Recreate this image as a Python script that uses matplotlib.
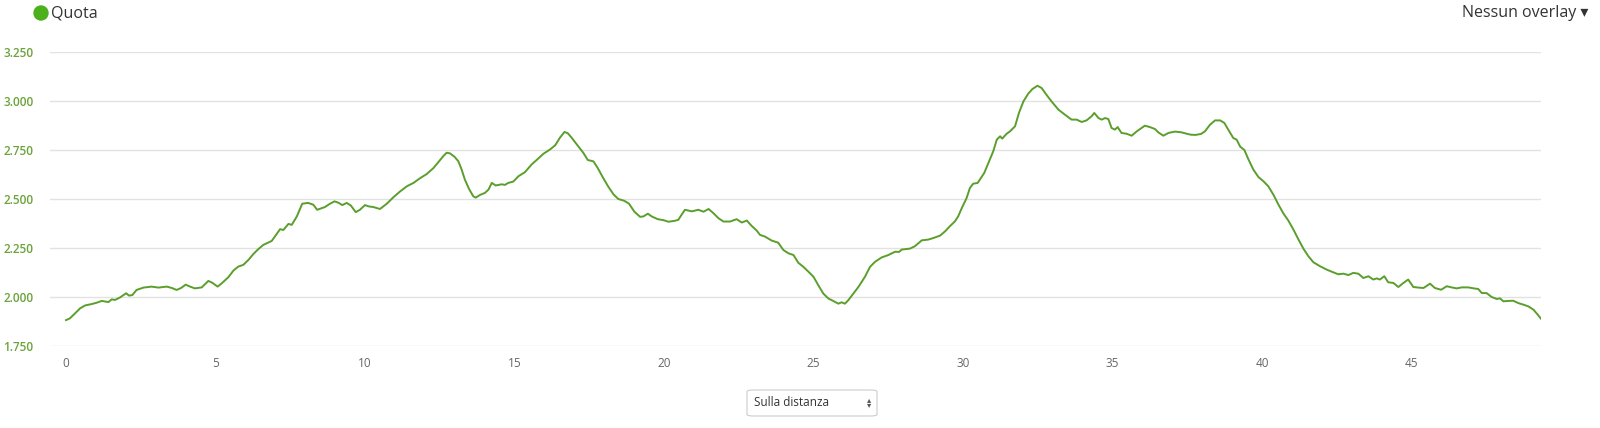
import matplotlib
matplotlib.use("Agg")
import matplotlib.pyplot as plt
from matplotlib.patches import FancyBboxPatch, Circle

dist_km = [0.00,0.13,0.30,0.47,0.64,0.86,1.03,1.20,1.42,1.53,1.64,1.81,2.01,2.11,2.22,2.36,2.59,2.86,3.09,3.37,3.54,3.70,3.85,4.00,4.15,4.31,4.54,4.76,4.89,5.07,5.21,5.43,5.60,5.76,5.93,6.10,6.27,6.43,6.60,
 6.88,7.05,7.16,7.27,7.44,7.55,7.72,7.90,8.10,8.27,8.40,8.49,8.66,8.83,8.98,9.11,9.24,9.39,9.53,9.69,9.83,10.0,10.13,10.28,10.50,10.73,10.95,11.17,11.40,11.62,11.84,12.06,12.29,12.45,12.62,12.73,12.84,12.99,13.12,13.23,13.34,13.48,13.62,13.70,
 13.85,14.01,14.13,14.24,14.37,14.57,14.68,14.79,14.96,15.13,15.35,15.57,15.74,15.97,16.19,16.36,16.52,16.67,16.78,16.91,17.08,17.30,17.45,17.64,17.78,17.97,18.14,18.31,18.47,18.67,18.83,19.01,19.20,19.31,19.46,19.59,19.79,19.98,20.15,20.37,20.48,20.61,20.70,
 20.93,21.15,21.32,21.49,21.65,21.82,21.99,22.21,22.43,22.60,22.77,22.93,23.10,23.21,23.38,23.60,23.82,23.99,24.16,24.33,24.49,24.66,24.83,25.00,25.16,25.33,25.50,25.66,25.83,25.94,26.05,26.16,26.33,26.50,26.72,26.89,27.06,27.28,27.50,27.73,
 27.86,27.95,28.23,28.39,28.62,28.84,29.01,29.23,29.40,29.56,29.73,29.84,29.96,30.12,30.23,30.34,30.49,30.60,30.71,30.85,31.01,31.13,31.24,31.31,31.46,31.57,31.74,31.87,32.02,32.18,32.32,32.49,32.63,32.79,32.96,33.19,33.41,33.63,33.80,33.97,34.13,34.30,34.39,34.53,34.64,
 34.75,34.86,34.97,35.08,35.17,35.30,35.47,35.64,35.81,35.97,36.08,36.25,36.42,36.53,36.70,36.87,37.09,37.31,37.48,37.62,37.78,37.96,38.09,38.26,38.43,38.60,38.74,38.87,39.04,39.15,39.27,39.41,39.54,39.71,39.88,40.05,40.21,40.38,40.55,40.72,40.88,41.05,41.22,41.39,41.55,41.72,
 41.94,42.16,42.38,42.55,42.72,42.89,43.05,43.22,43.39,43.56,43.72,43.84,43.94,44.09,44.22,44.39,44.56,44.73,44.89,45.06,45.23,45.40,45.62,45.78,45.99,46.18,46.34,46.51,46.68,46.90,47.12,47.23,47.35,47.51,47.68,47.85,47.96,48.07,48.24,48.40,48.57,48.74,48.91,49.08,49.22,49.33]

elev_m = [1882,1891,1916,1942,1957,1964,1971,1980,1974,1988,1985,1998,2019,2007,2010,2036,2048,2053,2048,2053,2046,2036,2046,2063,2053,2044,2049,2082,2073,2053,2070,2101,2135,2155,2164,2189,2220,2244,2266,
 2286,2322,2346,2342,2373,2368,2411,2476,2480,2471,2445,2450,2459,2476,2488,2481,2469,2480,2466,2433,2445,2469,2462,2459,2449,2476,2509,2538,2565,2582,2606,2627,2658,2688,2719,2736,2733,2716,2693,2651,2599,2551,2514,2507,
 2521,2531,2548,2582,2569,2575,2572,2582,2589,2616,2637,2676,2699,2731,2753,2774,2813,2842,2836,2813,2779,2736,2699,2692,2659,2606,2562,2524,2500,2491,2476,2435,2409,2411,2425,2411,2397,2392,2384,2389,2394,2425,2445,
 2437,2445,2435,2449,2428,2402,2385,2385,2397,2380,2390,2363,2339,2317,2308,2288,2277,2240,2223,2214,2175,2154,2129,2103,2060,2017,1992,1980,1966,1973,1966,1983,2017,2051,2103,2154,2180,2202,2214,2231,
 2230,2242,2247,2259,2289,2293,2301,2313,2335,2361,2386,2412,2454,2505,2556,2578,2582,2607,2633,2684,2743,2803,2820,2808,2833,2845,2871,2939,2998,3037,3061,3078,3066,3032,2998,2956,2930,2905,2905,2893,2901,2922,2939,2913,2905,
 2913,2908,2862,2854,2867,2837,2833,2823,2845,2862,2874,2867,2857,2840,2823,2837,2844,2840,2833,2828,2827,2832,2845,2879,2901,2901,2888,2854,2811,2803,2767,2750,2704,2650,2612,2590,2565,2522,2471,2425,2390,2344,2293,2245,2208,2177,
 2157,2140,2126,2116,2119,2112,2123,2119,2097,2106,2089,2095,2089,2106,2075,2072,2051,2072,2089,2051,2048,2046,2068,2046,2037,2055,2049,2044,2049,2049,2043,2041,2020,2020,2000,1990,1993,1978,1980,1981,1969,1961,1952,1935,1910,1889]

y_ticks = [1750, 2000, 2250, 2500, 2750, 3000, 3250]
y_tick_labels = ["1.750", "2.000", "2.250", "2.500", "2.750", "3.000", "3.250"]
x_ticks = [0, 5, 10, 15, 20, 25, 30, 35, 40, 45]
x_tick_labels = ["0", "5", "10", "15", "20", "25", "30", "35", "40", "45"]
series_name = "Quota"

FONT = ["Open Sans", "DejaVu Sans"]
plt.rcParams["font.family"] = FONT

W, H = 1600, 428
fig = plt.figure(figsize=(W / 100, H / 100), dpi=100)
fig.patch.set_facecolor("white")

ax = fig.add_axes([50 / W, 1 - 346 / H, (1541 - 50) / W, (346 - 52) / H])
ax.set_facecolor("white")
ax.plot(dist_km, elev_m, color="#5a9e2c", lw=1.4, solid_joinstyle="round")
ax.set_xlim(-0.535, 49.33)
ax.set_ylim(1750, 3250)
ax.set_yticks(y_ticks)
ax.set_yticklabels(y_tick_labels)
ax.set_xticks(x_ticks)
ax.set_xticklabels(x_tick_labels)
ax.grid(axis="y", color="#e2e2e2", lw=1)
ax.set_axisbelow(True)
for s in ax.spines.values():
    s.set_visible(False)
ax.tick_params(axis="y", length=0, pad=12, labelsize=8.5, labelcolor="#6aa33a")
ax.tick_params(axis="x", length=0, pad=8, labelsize=8.5, labelcolor="#666666")
for lab in ax.get_yticklabels():
    lab.set_fontweight("semibold")

# Legend at top left
fig.patches.append(Circle((41, H - 13), 7, transform=None, color="#4caf1c"))
fig.text(51 / W, 1 - 13 / H, series_name, ha="left", va="center", fontsize=11.5, color="#333333")

# Overlay selector at top right
fig.text(1588 / W, 1 - 13 / H, "Nessun overlay \u25BE", ha="right", va="center",
         fontsize=11.5, color="#333333", family=FONT)

# Dropdown box at bottom
box = FancyBboxPatch((747 / W, 1 - 416 / H), 130 / W, 26 / H,
                     boxstyle="round,pad=0,rounding_size=0.004",
                     transform=fig.transFigure, facecolor="white",
                     edgecolor="#cccccc", lw=0.8)
fig.patches.append(box)
fig.text(754 / W, 1 - 403 / H, "Sulla distanza", ha="left", va="center",
         fontsize=8.5, color="#333333")
fig.text(869 / W, 1 - 400.5 / H, "\u25B4", ha="center", va="center", fontsize=6,
         color="#555555", family=FONT)
fig.text(869 / W, 1 - 405.5 / H, "\u25BE", ha="center", va="center", fontsize=6,
         color="#555555", family=FONT)

fig.savefig("out.png", dpi=100, facecolor="white")
